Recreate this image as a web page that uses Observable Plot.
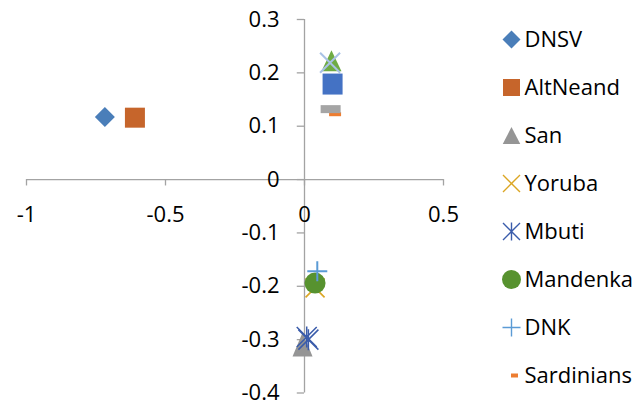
<!DOCTYPE html>
<html>
<head>
<meta charset="utf-8">
<script src="https://cdn.jsdelivr.net/npm/d3@7"></script>
<script src="https://cdn.jsdelivr.net/npm/@observablehq/plot@0.6"></script>
<style>
  html, body { margin: 0; padding: 0; background: #fff; }
  #wrap { position: relative; width: 642px; height: 404px; overflow: hidden; background: #fff; font-family: 'Open Sans', sans-serif; }
  #main { position: absolute; left: 0; top: 0; }
  #legend { position: absolute; left: 500px; top: 0; }
</style>
</head>
<body>
<div id="wrap"><div id="main"></div><div id="legend"></div></div>
<script>
// ---- data ----
const names = ["DNSV", "AltNeand", "San", "Yoruba", "Mbuti", "Mandenka", "DNK", "Sardinians"];
const dnsvX = [-0.718];  const dnsvY = [0.1175];
const altX = [-0.610];   const altY = [0.116];
const sanX = [-0.007];   const sanY = [-0.309];
const yorubaX = [0.038]; const yorubaY = [-0.203];
const mbutiX = [0.008, 0.014]; const mbutiY = [-0.295, -0.300];
const mandX = [0.038];   const mandY = [-0.194];
const dnkX = [0.046];    const dnkY = [-0.172];
const sardX = [0.110];   const sardY = [0.1225];
// further series whose legend entries are cut off in the original
const extraNames = ["series9", "series10", "series11", "series12"];
const extraX = [0.097, 0.092, 0.101, 0.094];
const extraY = [0.2225, 0.219, 0.179, 0.132];

const xTicks = [-1, -0.5, 0, 0.5];
const xTickLabels = ["-1", "-0.5", "0", "0.5"];
const yTicks = [0.3, 0.2, 0.1, 0, -0.1, -0.2, -0.3, -0.4];
const yTickLabels = ["0.3", "0.2", "0.1", "0", "-0.1", "-0.2", "-0.3", "-0.4"];

// ---- marker shapes ----
const sym = {
  diamond: r => ({draw(c){ c.moveTo(0,-r); c.lineTo(r,0); c.lineTo(0,r); c.lineTo(-r,0); c.closePath(); }}),
  square: (w,h) => ({draw(c){ c.rect(-w/2,-h/2,w,h); }}),
  triangle: (w,h) => ({draw(c){ c.moveTo(0,-h/2); c.lineTo(w/2,h/2); c.lineTo(-w/2,h/2); c.closePath(); }}),
  times: r => ({draw(c){ c.moveTo(-r,-r); c.lineTo(r,r); c.moveTo(-r,r); c.lineTo(r,-r); }}),
  star: r => ({draw(c){ c.moveTo(-r,-r); c.lineTo(r,r); c.moveTo(-r,r); c.lineTo(r,-r); c.moveTo(0,-r*1.05); c.lineTo(0,r*1.05); }}),
  circle: r => ({draw(c){ c.moveTo(r,0); c.arc(0,0,r,0,2*Math.PI); }}),
  plus: r => ({draw(c){ c.moveTo(-r,0); c.lineTo(r,0); c.moveTo(0,-r); c.lineTo(0,r); }}),
  dash: (w,h) => ({draw(c){ c.rect(-w/2,-h/2,w,h); }})
};

const colors = {
  DNSV: "#4a7eb9", AltNeand: "#c6652b", San: "#959595", Yoruba: "#dba624",
  Mbuti: "#3a5cab", Mandenka: "#57922f", DNK: "#5b9bd5", Sardinians: "#ed7d31"
};
const extraColors = ["#6fab45", "#a9c2e6", "#4472c4", "#a5a5a5"];

const pts = (xs, ys) => xs.map((x, i) => ({x, y: ys[i]}));

function filled(data, symbol, color) {
  return Plot.dot(data, {x: "x", y: "y", symbol, fill: color, stroke: "none", r: 5});
}
function stroked(data, symbol, color, w) {
  return Plot.dot(data, {x: "x", y: "y", symbol, fill: "none", stroke: color, strokeWidth: w, r: 5});
}

const axisColor = "#a3a3a3";

const main = Plot.plot({
  width: 642,
  height: 404,
  marginLeft: 26,
  marginRight: 199,
  marginTop: 19,
  marginBottom: 11.5,
  x: {domain: [-1, 0.5], axis: null},
  y: {domain: [-0.4, 0.3], axis: null},
  style: {background: "transparent", overflow: "visible", fontFamily: "'Open Sans', sans-serif"},
  marks: [
    Plot.ruleY([0], {x1: -1, x2: 0.5, stroke: axisColor, strokeWidth: 1.3}),
    Plot.ruleX([0], {y1: -0.4, y2: 0.3, stroke: axisColor, strokeWidth: 1.3}),
    Plot.ruleX(xTicks, {x: d => d, y1: 0, y2: -0.012, stroke: axisColor, strokeWidth: 1.3}),
    Plot.ruleY(yTicks, {y: d => d, x1: -0.026, x2: 0, stroke: axisColor, strokeWidth: 1.3}),
    Plot.text(xTicks, {x: d => d, y: 0, dy: 35, text: (d, i) => xTickLabels[i], fontSize: 22, fill: "#000", textAnchor: "middle"}),
    Plot.text(yTicks, {x: 0, y: d => d, dx: -25, text: (d, i) => yTickLabels[i], fontSize: 22, fill: "#000", textAnchor: "end"}),

    filled(pts(dnsvX, dnsvY), sym.diamond(10), colors.DNSV),
    filled(pts(altX, altY), sym.square(20, 20), colors.AltNeand),
    filled(pts(sanX, sanY), sym.triangle(20, 24), colors.San),
    stroked(pts(yorubaX, yorubaY), sym.times(9.5), colors.Yoruba, 1.6),
    stroked(pts(mbutiX, mbutiY), sym.star(10), colors.Mbuti, 1.5),
    filled(pts(mandX, mandY), sym.circle(10.5), colors.Mandenka),
    stroked(pts(dnkX, dnkY), sym.plus(10), colors.DNK, 2),
    filled(pts(sardX, sardY), sym.dash(12, 4), colors.Sardinians),

    filled(pts([extraX[0]], [extraY[0]]), sym.triangle(20, 21), extraColors[0]),
    stroked(pts([extraX[1]], [extraY[1]]), sym.times(10), extraColors[1], 2),
    filled(pts([extraX[2]], [extraY[2]]), sym.square(20, 21), extraColors[2]),
    filled(pts([extraX[3]], [extraY[3]]), sym.dash(20, 8), extraColors[3])
  ]
});
document.getElementById("main").appendChild(main);

// ---- legend ----
const legendSyms = [
  {s: sym.diamond(9), fill: true, w: 0},
  {s: sym.square(17, 17), fill: true, w: 0},
  {s: sym.triangle(17.5, 17), fill: true, w: 0},
  {s: sym.times(8.5), fill: false, w: 1.4},
  {s: sym.star(8.5), fill: false, w: 1.4},
  {s: sym.circle(9.5), fill: true, w: 0},
  {s: sym.plus(9), fill: false, w: 1.4},
  {s: sym.dash(7, 4), fill: true, w: 0, dx: 3}
];
const legendMarks = names.map((n, i) => {
  const L = legendSyms[i];
  return Plot.dot([n], {
    x: 11, y: d => d, dx: L.dx || 0, symbol: L.s, r: 5,
    fill: L.fill ? colors[n] : "none",
    stroke: L.fill ? "none" : colors[n],
    strokeWidth: L.w
  });
});
const legend = Plot.plot({
  width: 142,
  height: 404,
  margin: 0,
  x: {domain: [0, 142], range: [0, 142], axis: null},
  y: {type: "point", domain: names, range: [37, 377], padding: 0, axis: null},
  style: {background: "transparent", overflow: "visible", fontFamily: "'Open Sans', sans-serif"},
  marks: [
    ...legendMarks,
    Plot.text(names, {x: 24, y: d => d, text: d => d, textAnchor: "start", fontSize: 22, fill: "#000"})
  ]
});
document.getElementById("legend").appendChild(legend);
</script>
</body>
</html>
